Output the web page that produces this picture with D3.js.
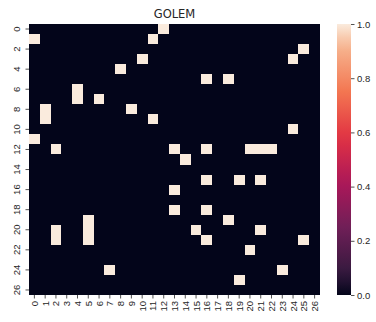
<!DOCTYPE html>
<html>
<head>
<meta charset="utf-8">
<script src="https://cdn.jsdelivr.net/npm/d3@7"></script>
<style>
  html, body { margin: 0; padding: 0; background: #ffffff; }
  svg { display: block; font-family: "DejaVu Sans", sans-serif; }
  .tick text { fill: #262626; }
  .domain { display: none; }
</style>
</head>
<body>
<svg id="chart" width="376" height="322"></svg>
<script>
// Adjacency matrix estimated by GOLEM: for each row, the columns holding a 1 (all others 0)
const title = "GOLEM";
const nodes = d3.range(27);
const onesByRow = [
  [12], [0, 11], [25], [10, 24], [8], [16, 18], [4], [4, 6], [1, 9], [1, 11],
  [24], [0], [2, 13, 16, 20, 21, 22], [14], [], [16, 19, 21], [13], [],
  [13, 16], [5, 18], [2, 5, 15, 21], [2, 5, 16, 25], [20], [], [7, 23], [19], []
];
const yTickValues = nodes.filter(d => d % 2 === 0);
const colorbarTicks = [0, 0.2, 0.4, 0.6, 0.8, 1.0];

// seaborn "rocket" colormap, sampled stops
const rocketStops = ["#03051a", "#35193e", "#701f57", "#ad1759", "#e13342", "#f37651", "#f6b48f", "#faebdd"];
const rocketPos = [0, 1/12, 3/12, 5/12, 7/12, 9/12, 11/12, 1];
const color = d3.scaleLinear().domain(rocketPos).range(rocketStops).interpolate(d3.interpolateRgb).clamp(true);

// Build the full matrix
const cells = [];
nodes.forEach(r => nodes.forEach(c => {
  cells.push({ row: r, col: c, value: onesByRow[r].includes(c) ? 1 : 0 });
}));

const svg = d3.select("#chart");
const plot = { left: 29, right: 320, top: 24, bottom: 295 };

const x = d3.scaleBand().domain(nodes).range([plot.left, plot.right]).padding(0);
const y = d3.scaleBand().domain(nodes).range([plot.top, plot.bottom]).padding(0);

// Underlay in the zero colour
svg.append("rect")
  .attr("x", plot.left).attr("y", plot.top)
  .attr("width", plot.right - plot.left).attr("height", plot.bottom - plot.top)
  .attr("fill", color(0));

// Heatmap cells, pixel-snapped so neighbours meet without seams
svg.append("g")
  .attr("shape-rendering", "crispEdges")
  .selectAll("rect")
  .data(cells.sort((a, b) => a.value - b.value))
  .join("rect")
  .attr("x", d => x(d.col))
  .attr("y", d => y(d.row))
  .attr("width", x.bandwidth())
  .attr("height", y.bandwidth())
  .attr("fill", d => color(d.value));

// X axis
const xAxis = svg.append("g")
  .attr("transform", `translate(0,${plot.bottom})`)
  .call(d3.axisBottom(x).tickSize(3.5).tickPadding(2));
xAxis.selectAll(".tick line").attr("stroke", "#262626").attr("stroke-width", 0.8);
xAxis.selectAll(".tick text")
  .attr("font-size", "9.5px")
  .attr("transform", "rotate(-90)")
  .attr("text-anchor", "end")
  .attr("dominant-baseline", "central")
  .attr("x", -6)
  .attr("y", 0)
  .attr("dy", null);

// Y axis
const yAxis = svg.append("g")
  .attr("transform", `translate(${plot.left},0)`)
  .call(d3.axisLeft(y).tickValues(yTickValues).tickSize(3.5).tickPadding(2));
yAxis.selectAll(".tick line").attr("stroke", "#262626").attr("stroke-width", 0.8);
yAxis.selectAll(".tick text")
  .attr("font-size", "9.5px")
  .attr("transform", "rotate(-90)")
  .attr("text-anchor", "middle")
  .attr("x", 0)
  .attr("y", -9)
  .attr("dy", null);

// Title
svg.append("text")
  .attr("x", (plot.left + plot.right) / 2)
  .attr("y", 18)
  .attr("text-anchor", "middle")
  .attr("font-size", "11.5px")
  .attr("fill", "#262626")
  .text(title);

// Colorbar
const cb = { left: 337, width: 14 };
const cScale = d3.scaleLinear().domain([0, 1]).range([plot.bottom, plot.top]);
const defs = svg.append("defs");
const grad = defs.append("linearGradient")
  .attr("id", "rocket-grad")
  .attr("x1", 0).attr("y1", 1).attr("x2", 0).attr("y2", 0);
d3.range(0, 1.0001, 0.05).forEach(t => {
  grad.append("stop").attr("offset", t).attr("stop-color", color(t));
});
svg.append("rect")
  .attr("x", cb.left)
  .attr("y", plot.top)
  .attr("width", cb.width)
  .attr("height", plot.bottom - plot.top)
  .attr("fill", "url(#rocket-grad)");

const cAxis = svg.append("g")
  .attr("transform", `translate(${cb.left + cb.width},0)`)
  .call(d3.axisRight(cScale).tickValues(colorbarTicks).tickFormat(d3.format(".1f")).tickSize(3.5).tickPadding(2.5));
cAxis.selectAll(".tick line").attr("stroke", "#262626").attr("stroke-width", 0.8);
cAxis.selectAll(".tick text").attr("font-size", "9.5px");
</script>
</body>
</html>
